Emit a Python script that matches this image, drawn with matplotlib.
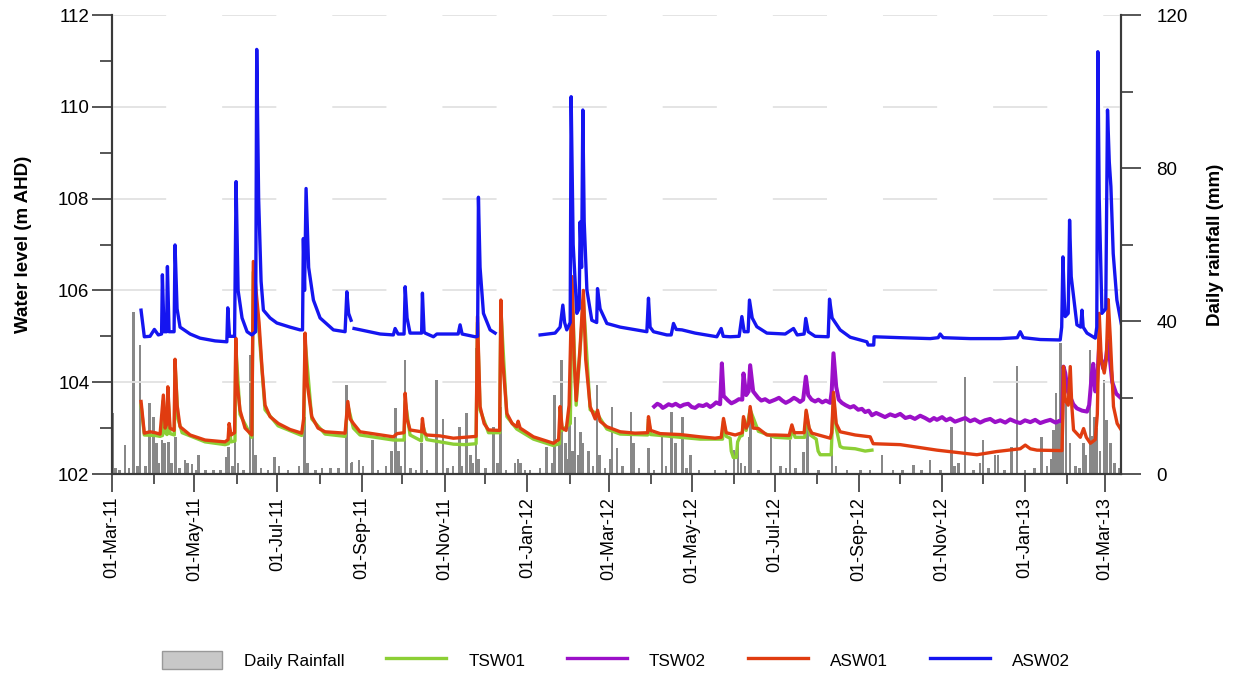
import datetime
import numpy as np
import matplotlib
matplotlib.use('Agg')
import matplotlib.pyplot as plt
import matplotlib.dates as mdates
from matplotlib.patches import Patch
from matplotlib.lines import Line2D
from matplotlib.ticker import MultipleLocator

plt.rcParams['font.family'] = ['Liberation Sans', 'DejaVu Sans']

# all records are (day since 1 March 2011, value)
T0 = mdates.date2num(datetime.date(2011, 3, 1))
T_END = 742.6

# daily rainfall (mm)
rain = [
    (1, 15.9), (3, 1.5), (6, 1.0), (10, 7.6), (13, 1.5), (16, 42.4), (19, 2.0), (21, 33.7),
    (25, 2.0), (28, 18.5), (31, 15.0), (33, 8.0), (35, 3.0), (37, 8.9), (39, 8.0), (42, 8.4),
    (44, 3.0), (47, 9.8), (50, 1.5), (54, 3.7), (56, 3.0), (59, 2.5), (62, 1.0), (64, 5.0),
    (69, 1.0), (75, 1.0), (80, 1.0), (84, 4.5), (86, 7.1), (89, 2.0), (91, 11.5), (93, 3.0),
    (97, 1.0), (102, 31.0), (104, 32.9), (106, 5.0), (110, 1.5), (115, 1.0), (120, 4.5),
    (123, 2.0), (130, 1.0), (138, 2.0), (142, 15.0), (144, 3.0), (150, 1.0), (155, 1.5),
    (161, 1.5), (167, 1.5), (173, 23.3), (176, 3.0), (177, 3.2), (182, 3.7), (185, 2.0),
    (192, 8.9), (196, 1.0), (202, 2.0), (206, 6.0), (209, 17.2), (211, 6.0), (213, 2.0),
    (216, 29.8), (220, 1.5), (224, 1.0), (228, 8.0), (232, 1.0), (239, 24.7), (244, 14.5),
    (247, 1.5), (251, 2.0), (256, 12.4), (258, 2.0), (261, 15.9), (264, 5.0), (266, 3.0),
    (268, 33.0), (270, 4.0), (275, 1.5), (281, 12.4), (284, 3.0), (286, 17.6), (290, 1.0),
    (297, 3.0), (299, 4.0), (301, 3.0), (304, 1.0), (308, 1.0), (315, 1.5), (320, 7.1),
    (324, 3.0), (326, 20.6), (329, 14.0), (331, 29.8), (334, 8.0), (335, 4.0), (337, 24.6),
    (339, 6.0), (341, 15.0), (343, 5.0), (345, 11.0), (347, 8.0), (351, 6.0), (354, 2.0),
    (357, 23.3), (359, 5.0), (363, 1.5), (367, 4.0), (368, 17.6), (372, 6.7), (376, 2.0),
    (382, 16.3), (384, 8.0), (388, 1.5), (395, 6.7), (399, 1.0), (405, 9.8), (408, 2.0),
    (412, 16.3), (415, 8.0), (420, 15.0), (423, 1.5), (426, 5.0), (432, 1.0), (444, 1.0),
    (452, 1.0), (458, 6.3), (461, 7.6), (463, 3.0), (466, 2.0), (469, 9.8), (470, 14.1),
    (476, 1.0), (485, 10.2), (492, 2.0), (496, 1.5), (499, 8.9), (503, 1.5), (509, 5.8),
    (512, 12.4), (520, 1.0), (530, 15.0), (533, 2.0), (541, 1.0), (551, 1.0), (558, 1.0),
    (567, 5.0), (575, 1.0), (582, 1.0), (590, 2.4), (596, 1.0), (602, 3.7), (610, 1.0),
    (618, 12.4), (620, 2.0), (623, 3.0), (628, 25.4), (634, 1.0), (639, 3.0), (641, 8.9),
    (645, 1.5), (650, 5.0), (652, 5.0), (657, 1.0), (662, 7.1), (666, 28.2), (672, 1.0),
    (679, 1.5), (684, 9.8), (688, 2.0), (691, 4.0), (693, 11.5), (695, 21.1), (696, 14.0),
    (698, 34.2), (699, 25.0), (700, 10.0), (702, 20.0), (705, 8.0), (709, 2.0), (712, 1.5),
    (715, 8.0), (717, 5.0), (720, 32.4), (721, 10.0), (723, 15.0), (725, 12.0), (727, 6.0),
    (730, 24.6), (732, 14.0), (735, 8.0), (738, 3.0), (741, 1.5),
]

# water levels (m AHD)
tsw01 = [
    (21.7, 103.5), (24.1, 102.85), (32.0, 102.84), (35.7, 102.82), (37.5, 102.84), (38.1, 103.6),
    (39.4, 102.9), (40.8, 102.86), (41.4, 103.8), (43.0, 102.88), (46.2, 102.85), (46.7, 104.4),
    (48.9, 103.2), (51.9, 102.9), (68.8, 102.7), (83.5, 102.64), (86.0, 102.66), (86.5, 103.0),
    (87.9, 102.7), (90.8, 102.72), (91.4, 104.8), (94.5, 103.3), (103.2, 102.8), (104.3, 106.4),
    (108.5, 105.1), (112.9, 103.4), (122.5, 103.05), (139.9, 102.84), (141.5, 103.1),
    (142.4, 104.9), (147.3, 103.2), (157.1, 102.87), (171.8, 102.82), (173.8, 103.5),
    (177.9, 103.0), (182.8, 102.85), (207.3, 102.74), (215.2, 102.74), (216.0, 103.6),
    (219.6, 102.85), (228.0, 102.72), (228.7, 103.1), (231.9, 102.75), (241.7, 102.7),
    (251.5, 102.65), (260.1, 102.64), (268.2, 102.66), (269.2, 105.3), (271.1, 103.4),
    (277.3, 102.9), (285.5, 102.9), (286.4, 105.6), (290.8, 103.25), (298.1, 102.98),
    (310.4, 102.76), (325.1, 102.62), (329.5, 102.66), (330.0, 103.4), (331.5, 102.95),
    (337.5, 103.1), (338.8, 106.1), (341.8, 103.5), (344.7, 104.7), (347.1, 105.8),
    (352.1, 103.4), (357.5, 103.3), (364.4, 102.98), (374.2, 102.87), (394.4, 102.85),
    (395.0, 103.2), (396.6, 102.86), (418.3, 102.8), (433.0, 102.76), (449.5, 102.76),
    (450.2, 103.15), (452.2, 102.82), (455.1, 102.78), (455.9, 102.5), (457.4, 102.36),
    (459.6, 102.36), (460.6, 102.7), (462.4, 102.82), (464.0, 102.84), (464.9, 103.2),
    (466.9, 102.95), (469.8, 103.4), (475.9, 102.93), (488.2, 102.8), (499.5, 102.78),
    (500.5, 103.0), (502.9, 102.8), (510.0, 102.8), (511.0, 103.35), (514.0, 102.85),
    (518.4, 102.76), (519.8, 102.5), (521.3, 102.42), (529.4, 102.42), (531.1, 103.7),
    (533.1, 103.0), (536.0, 102.6), (538.2, 102.57), (547.1, 102.55), (554.4, 102.5),
    (559.4, 102.52),
]

tsw02 = [
    (399.2, 103.47), (401.5, 103.53), (403.6, 103.50), (405.5, 103.44), (407.3, 103.47),
    (409.8, 103.52), (412.4, 103.49), (415.0, 103.53), (418.3, 103.47), (421.0, 103.51),
    (424.2, 103.53), (426.8, 103.46), (429.3, 103.44), (432.0, 103.50), (435.2, 103.48),
    (437.8, 103.52), (440.4, 103.46), (442.5, 103.50), (444.8, 103.56), (447.7, 103.52),
    (449.0, 104.41), (450.3, 103.70), (453.6, 103.60), (456.0, 103.54), (458.8, 103.58),
    (461.5, 103.63), (464.0, 103.62), (464.9, 104.19), (466.9, 103.72), (468.7, 103.80),
    (469.8, 104.37), (472.0, 103.80), (475.7, 103.66), (478.0, 103.60), (480.8, 103.63),
    (484.0, 103.57), (488.2, 103.62), (491.0, 103.66), (493.4, 103.60), (496.0, 103.55),
    (499.2, 103.60), (502.0, 103.66), (504.4, 103.62), (506.5, 103.57), (508.8, 103.62),
    (510.8, 104.12), (512.5, 103.72), (515.0, 103.62), (517.6, 103.58), (520.0, 103.62),
    (522.8, 103.56), (525.5, 103.60), (528.7, 103.55), (529.8, 103.80), (531.1, 104.63),
    (533.1, 103.90), (535.0, 103.62), (537.3, 103.55), (540.0, 103.50), (543.4, 103.45),
    (546.0, 103.48), (549.3, 103.40), (552.0, 103.42), (554.4, 103.35), (557.0, 103.38),
    (559.4, 103.28), (562.5, 103.33), (565.5, 103.29), (569.0, 103.24), (572.8, 103.30),
    (576.5, 103.26), (580.2, 103.31), (584.0, 103.22), (587.5, 103.25), (591.0, 103.20),
    (594.9, 103.27), (598.5, 103.22), (602.0, 103.16), (605.0, 103.22), (607.2, 103.18),
    (611.0, 103.24), (614.0, 103.17), (617.0, 103.21), (620.5, 103.14), (624.3, 103.18),
    (628.0, 103.22), (631.7, 103.15), (635.0, 103.19), (639.0, 103.12), (642.5, 103.17),
    (646.4, 103.20), (650.0, 103.13), (653.8, 103.17), (657.5, 103.12), (661.1, 103.19),
    (665.0, 103.14), (668.5, 103.11), (672.0, 103.17), (675.9, 103.13), (679.5, 103.18),
    (683.2, 103.11), (687.0, 103.15), (690.6, 103.18), (694.5, 103.12), (697.5, 103.16),
    (699.2, 103.15), (700.3, 104.34), (701.6, 104.20), (703.5, 103.80), (705.3, 103.68),
    (707.5, 103.52), (710.2, 103.43), (714.0, 103.38), (717.6, 103.36), (719.2, 103.50),
    (721.2, 104.19), (722.2, 104.40), (723.7, 103.80), (725.0, 104.00), (726.6, 104.80),
    (728.0, 104.50), (729.5, 104.30), (731.5, 104.50), (733.2, 104.90), (734.8, 104.40),
    (736.2, 104.00), (739.1, 103.75), (742.8, 103.65),
]

asw01 = [
    (21.7, 103.58), (24.1, 102.89), (28.3, 102.92), (32.0, 102.9), (35.7, 102.87), (37.5, 103.5),
    (38.1, 103.72), (39.4, 103.0), (40.8, 103.1), (41.4, 103.9), (43.0, 103.0), (46.0, 102.95),
    (46.7, 104.5), (48.2, 103.5), (50.4, 103.03), (57.8, 102.85), (68.8, 102.74), (83.5, 102.7),
    (85.7, 102.75), (86.5, 103.1), (87.9, 102.85), (90.5, 102.9), (91.4, 104.96), (92.3, 104.0),
    (94.5, 103.39), (98.2, 103.0), (103.2, 102.85), (104.3, 106.63), (106.3, 106.0),
    (108.5, 105.3), (110.7, 104.3), (112.9, 103.5), (116.6, 103.25), (122.7, 103.1),
    (131.3, 102.97), (139.9, 102.89), (141.3, 103.2), (142.4, 105.07), (143.8, 104.0),
    (147.3, 103.25), (151.9, 103.0), (157.1, 102.92), (171.8, 102.89), (173.8, 103.58),
    (175.5, 103.2), (177.9, 103.1), (182.8, 102.92), (193.9, 102.87), (207.3, 102.81),
    (210.1, 102.88), (215.2, 102.9), (216.0, 103.76), (217.4, 103.2), (219.6, 102.96),
    (228.1, 102.92), (228.7, 103.21), (229.9, 102.9), (231.9, 102.85), (241.7, 102.83),
    (251.5, 102.78), (260.1, 102.8), (268.2, 102.82), (269.2, 105.43), (270.4, 104.2),
    (271.1, 103.47), (274.1, 103.1), (277.3, 102.96), (285.5, 102.95), (286.4, 105.79),
    (287.7, 104.5), (290.8, 103.32), (294.7, 103.1), (298.1, 103.03), (299.1, 103.15),
    (300.6, 103.0), (310.4, 102.81), (325.1, 102.67), (328.9, 102.75), (330.0, 103.47),
    (331.5, 103.0), (334.4, 102.95), (336.6, 103.5), (338.8, 106.3), (340.3, 104.5),
    (341.8, 103.6), (344.7, 104.77), (347.1, 106.0), (348.8, 104.5), (352.1, 103.47),
    (355.8, 103.2), (357.5, 103.39), (359.4, 103.15), (364.4, 103.03), (374.2, 102.92),
    (385.2, 102.89), (394.4, 102.9), (395.0, 103.25), (396.6, 102.95), (403.6, 102.88),
    (418.3, 102.86), (433.0, 102.81), (444.0, 102.78), (448.5, 102.8), (450.2, 103.21),
    (452.2, 102.9), (458.8, 102.85), (464.0, 102.9), (464.9, 103.25), (466.9, 103.0),
    (468.7, 103.1), (469.8, 103.47), (472.0, 103.0), (475.9, 102.99), (482.1, 102.85),
    (488.2, 102.85), (498.5, 102.84), (500.5, 103.07), (502.2, 102.9), (509.5, 102.9),
    (511.0, 103.39), (513.2, 103.0), (515.2, 102.89), (528.7, 102.78), (529.8, 102.9),
    (531.1, 103.78), (533.1, 103.1), (536.0, 102.92), (547.1, 102.85), (558.1, 102.81),
    (560.3, 102.66), (580.2, 102.64), (607.2, 102.52), (636.6, 102.42), (651.3, 102.49),
    (668.5, 102.55), (672.2, 102.63), (675.9, 102.55), (680.8, 102.52), (699.2, 102.51),
    (699.8, 103.2), (700.3, 104.34), (701.6, 103.61), (703.8, 103.5), (705.3, 104.34),
    (706.4, 103.5), (707.7, 102.96), (712.7, 102.8), (715.1, 102.99), (717.1, 102.8),
    (720.1, 102.67), (723.7, 102.75), (725.2, 103.3), (726.6, 105.5), (728.1, 104.5),
    (730.3, 104.2), (731.8, 104.5), (733.2, 105.8), (734.7, 105.0), (737.1, 103.47),
    (739.8, 103.1), (742.8, 102.96),
]

# nan rows are breaks in the logger record
asw02 = [
    (21.7, 105.57), (24.1, 104.99), (28.3, 105.0), (31.5, 105.15), (34.4, 105.03), (36.8, 105.05),
    (37.4, 106.34), (38.6, 105.1), (40.5, 105.1), (41.1, 106.52), (42.3, 105.1), (46.0, 105.1),
    (46.7, 106.99), (48.2, 105.6), (50.4, 105.2), (57.8, 105.05), (65.1, 104.96), (76.2, 104.9),
    (84.8, 104.88), (85.5, 105.62), (86.8, 105.0), (90.5, 105.0), (91.6, 108.37), (93.1, 106.0),
    (96.0, 105.4), (99.7, 105.1), (103.2, 105.03), (106.0, 105.1), (106.8, 111.25),
    (108.2, 108.0), (110.0, 106.2), (111.7, 105.57), (116.6, 105.4), (121.6, 105.29),
    (131.3, 105.2), (138.7, 105.14), (140.5, 105.14), (141.1, 107.13), (142.0, 106.0),
    (143.1, 108.22), (145.0, 106.5), (148.5, 105.79), (153.4, 105.4), (163.2, 105.14),
    (171.8, 105.1), (173.1, 105.97), (174.4, 105.5), (176.2, 105.35), (177.3, np.nan),
    (178.4, 105.17), (186.5, 105.12), (197.6, 105.05), (207.3, 105.03), (208.6, 105.17),
    (210.8, 105.05), (215.2, 105.05), (216.0, 106.08), (217.4, 105.4), (219.6, 105.07),
    (228.1, 105.07), (228.7, 105.94), (229.9, 105.1), (230.7, 105.07), (236.8, 104.99),
    (239.3, 105.05), (249.1, 105.05), (255.0, 105.05), (256.4, 105.25), (257.9, 105.05),
    (267.5, 104.99), (269.3, 105.0), (269.9, 108.03), (271.1, 106.5), (273.6, 105.5),
    (278.5, 105.14), (282.2, 105.07), (298.0, np.nan), (315.3, 105.03), (326.3, 105.07),
    (330.0, 105.2), (332.0, 105.68), (333.3, 105.3), (334.9, 105.14), (337.4, 105.3),
    (338.1, 110.22), (339.6, 107.0), (342.3, 105.5), (344.0, 105.6), (344.7, 107.49),
    (345.8, 106.5), (346.7, 109.93), (347.7, 107.5), (349.7, 106.01), (353.3, 105.35),
    (356.9, 105.3), (357.5, 106.04), (359.4, 105.6), (364.4, 105.28), (374.2, 105.2),
    (393.8, 105.1), (395.0, 105.83), (396.2, 105.2), (398.7, 105.1), (408.5, 105.03),
    (411.7, 105.03), (413.4, 105.28), (415.4, 105.15), (419.6, 105.14), (429.3, 105.07),
    (445.3, 104.99), (448.5, 105.17), (450.0, 105.0), (455.1, 104.99), (461.7, 105.0),
    (463.7, 105.43), (465.4, 105.1), (468.3, 105.1), (469.3, 105.79), (471.3, 105.4),
    (474.7, 105.21), (482.1, 105.07), (495.6, 105.05), (501.7, 105.17), (504.4, 105.03),
    (509.5, 105.05), (510.7, 105.39), (512.5, 105.1), (517.6, 105.0), (527.2, 104.99),
    (528.2, 105.81), (530.1, 105.4), (536.0, 105.14), (543.4, 104.98), (555.7, 104.88),
    (556.6, 104.81), (560.7, 104.81), (561.0, 104.99), (580.2, 104.97), (602.3, 104.95),
    (608.1, 104.97), (609.6, 105.05), (611.8, 104.97), (631.7, 104.95), (653.8, 104.95),
    (666.3, 104.97), (668.5, 105.1), (670.7, 104.97), (683.2, 104.93), (697.9, 104.92),
    (699.0, 105.2), (699.9, 106.73), (700.9, 105.8), (701.6, 105.43), (703.8, 105.5),
    (704.8, 107.53), (706.0, 106.3), (710.2, 105.25), (713.0, 105.2), (713.9, 105.57),
    (714.8, 105.2), (717.6, 105.07), (723.7, 104.96), (724.8, 105.2), (725.6, 111.2),
    (726.6, 108.0), (728.6, 105.5), (731.4, 105.6), (732.7, 109.93), (734.0, 108.8),
    (735.2, 108.26), (736.9, 106.8), (739.6, 105.79), (742.8, 105.28),
]

names = ['TSW01', 'TSW02', 'ASW01', 'ASW02']
colors = ['#8ccf35', '#9b10c8', '#e03c10', '#1515f0']
widths = [2.4, 2.9, 2.4, 2.4]
rain_color = '#888888'
axis_color = '#3a3a3a'

fig = plt.figure(figsize=(12.34, 6.79), dpi=100)
ax = fig.add_axes([0.0904, 0.3019, 0.8180, 0.6760])
ax2 = ax.twinx()
# water levels sit above the rainfall bars
ax.set_zorder(ax2.get_zorder() + 1)
ax.patch.set_visible(False)

rd, rv = np.array(rain).T
ax2.bar(T0 + rd, rv, width=1.8, color=rain_color, linewidth=0)

for series, col, lw in zip([tsw01, tsw02, asw01, asw02], colors, widths):
    d, v = np.array(series).T
    ax.plot(T0 + d, v, color=col, lw=lw, solid_joinstyle='round')

ax.set_xlim(T0, T0 + T_END)
ax.set_ylim(102, 112)
ax2.set_ylim(0, 120)

ax.grid(axis='y', which='major', color='#e2e2e2', linewidth=1.3,
        linestyle=(0, (30, 31)))

for a in (ax, ax2):
    a.spines['top'].set_visible(False)
    for s in a.spines.values():
        s.set_color(axis_color)
        s.set_linewidth(1.5)

ax.xaxis.set_major_locator(mdates.MonthLocator(bymonth=[1, 3, 5, 7, 9, 11]))
ax.xaxis.set_minor_locator(mdates.MonthLocator())
ax.xaxis.set_major_formatter(mdates.DateFormatter('%d-%b-%y'))
ax.yaxis.set_major_locator(MultipleLocator(2))
ax.yaxis.set_minor_locator(MultipleLocator(1))
ax2.yaxis.set_major_locator(MultipleLocator(40))
ax2.yaxis.set_minor_locator(MultipleLocator(20))

ax.tick_params(axis='x', which='major', length=13, width=1.2, color=axis_color,
               labelrotation=90, pad=3.5, labelsize=13)
ax.tick_params(axis='x', which='minor', length=7.5, width=1.2, color=axis_color)
ax.tick_params(axis='y', which='major', length=14.4, width=1.2, color=axis_color,
               pad=1.5, labelsize=13.5)
ax.tick_params(axis='y', which='minor', length=8.6, width=1.2, color=axis_color)
ax2.tick_params(axis='y', which='major', length=14.4, width=1.2, color=axis_color,
                pad=11, labelsize=13.5)
ax2.tick_params(axis='y', which='minor', length=8.6, width=1.2, color=axis_color)

ax.set_ylabel('Water level (m AHD)', fontsize=13.5, fontweight='bold')
ax.yaxis.set_label_coords(-0.079, 0.5)
ax2.set_ylabel('Daily rainfall (mm)', fontsize=13.5, fontweight='bold')
ax2.yaxis.set_label_coords(1.085, 0.5)

handles = [Patch(facecolor='#c8c8c8', edgecolor='#999999', linewidth=1.0)]
handles += [Line2D([], [], color=c, lw=2.4) for c in colors]
labels = ['Daily Rainfall'] + names
fig.legend(handles, labels, loc='center', bbox_to_anchor=(0.499, 0.028), ncol=5,
           frameon=False, handlelength=3.5, handleheight=1.3, handletextpad=1.3,
           columnspacing=2.45, fontsize=12.3)

fig.savefig('out.png', dpi=100)
